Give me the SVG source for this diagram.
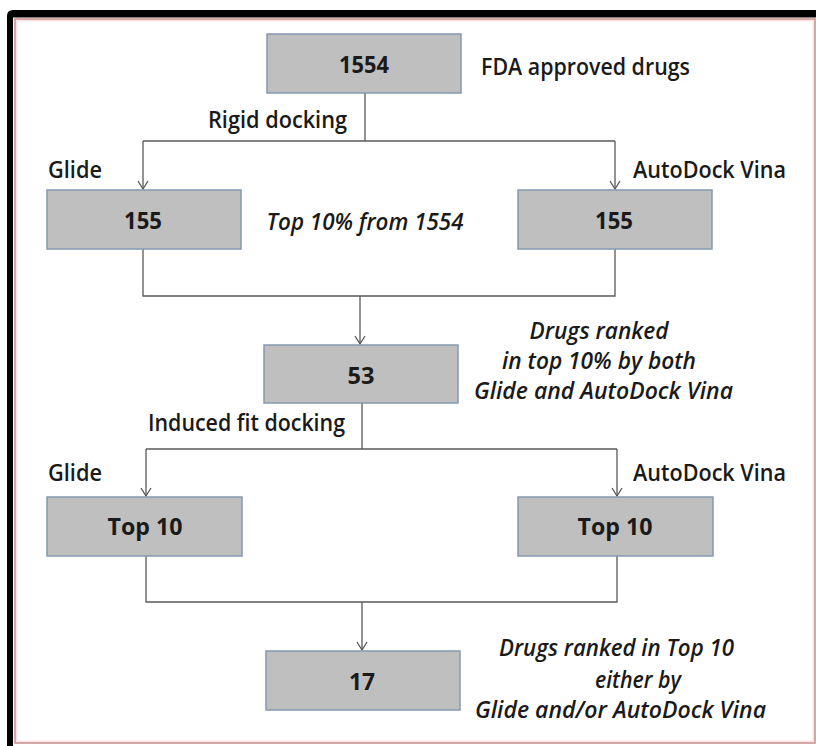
<svg xmlns="http://www.w3.org/2000/svg" width="816" height="746" viewBox="0 0 816 746">
<defs>
<style>
.box{fill:#bfbfbf;stroke:#8599b0;stroke-width:1.5}
.ln{fill:none;stroke:#595959;stroke-width:1.3}
.num{font-family:"Open Sans","Liberation Sans",sans-serif;font-weight:700;font-size:23px;fill:#1a1a1a;text-anchor:middle}
.lab{font-family:"Open Sans","Liberation Sans",sans-serif;font-weight:600;font-size:23.5px;fill:#1a1a1a}
.it{font-family:"Open Sans","Liberation Sans",sans-serif;font-weight:600;font-style:italic;font-size:23.5px;fill:#1a1a1a;text-anchor:middle}
</style>
<marker id="arr" markerUnits="userSpaceOnUse" markerWidth="12" markerHeight="12" viewBox="-10 -6 12 12" refX="0" refY="0" orient="auto">
<path d="M-8,-5 L0,0 L-8,5" fill="none" stroke="#595959" stroke-width="1.3"/>
</marker>
</defs>
<rect width="816" height="746" fill="#ffffff"/>
<g id="frame">
<path d="M7,746 L7,16 Q7,10 13,10 L816,10 L816,17.5 L13,17.5 L13,746 Z" fill="#000"/>
<rect x="15" y="19" width="800" height="724" fill="none" stroke="#c88a8a" stroke-width="1.5"/>
<rect x="16.8" y="20.8" width="796.4" height="720.4" fill="none" stroke="#f3d6d6" stroke-width="1"/>
</g>
<g id="connectors">
<path class="ln" d="M365,93 V141 M143,141 H615"/>
<path class="ln" d="M143,141 V189" marker-end="url(#arr)"/>
<path class="ln" d="M615,141 V189" marker-end="url(#arr)"/>
<path class="ln" d="M143,249 V296 H615 V249"/>
<path class="ln" d="M360,296 V344" marker-end="url(#arr)"/>
<path class="ln" d="M362,403 V449 M146,449 H617"/>
<path class="ln" d="M146,449 V496" marker-end="url(#arr)"/>
<path class="ln" d="M617,449 V496" marker-end="url(#arr)"/>
<path class="ln" d="M146,556 V602 H617 V556"/>
<path class="ln" d="M362,602 V650" marker-end="url(#arr)"/>
</g>
<g id="n1554">
<rect class="box" x="267" y="34" width="194" height="59"/>
<text class="num" x="364" y="72.5" textLength="50" lengthAdjust="spacingAndGlyphs">1554</text>
</g>
<g id="lbl-fda"><text class="lab" x="481" y="74.5" textLength="209" lengthAdjust="spacingAndGlyphs">FDA approved drugs</text></g>
<g id="lbl-rigid"><text class="lab" x="208" y="128" textLength="139" lengthAdjust="spacingAndGlyphs">Rigid docking</text></g>
<g id="lbl-glide1"><text class="lab" x="48" y="177.5" textLength="54" lengthAdjust="spacingAndGlyphs">Glide</text></g>
<g id="lbl-vina1"><text class="lab" x="633" y="177.5" textLength="153" lengthAdjust="spacingAndGlyphs">AutoDock Vina</text></g>
<g id="n155a">
<rect class="box" x="47" y="190" width="194" height="59"/>
<text class="num" x="143" y="228.5" textLength="38" lengthAdjust="spacingAndGlyphs">155</text>
</g>
<g id="n155b">
<rect class="box" x="518" y="190" width="194" height="59"/>
<text class="num" x="614" y="228.5" textLength="38" lengthAdjust="spacingAndGlyphs">155</text>
</g>
<g id="lbl-top10pct"><text class="it" x="365" y="229.5" textLength="197" lengthAdjust="spacingAndGlyphs">Top 10% from 1554</text></g>
<g id="n53">
<rect class="box" x="264" y="345" width="194" height="58"/>
<text class="num" x="361" y="383.5" textLength="27" lengthAdjust="spacingAndGlyphs">53</text>
</g>
<g id="lbl-both">
<text class="it" x="599" y="338.5" textLength="139" lengthAdjust="spacingAndGlyphs">Drugs ranked</text>
<text class="it" x="599" y="368.5" textLength="194" lengthAdjust="spacingAndGlyphs">in top 10% by both</text>
<text class="it" x="603.5" y="398.5" textLength="259" lengthAdjust="spacingAndGlyphs">Glide and AutoDock Vina</text>
</g>
<g id="lbl-induced"><text class="lab" x="148" y="430.5" textLength="197" lengthAdjust="spacingAndGlyphs">Induced fit docking</text></g>
<g id="lbl-glide2"><text class="lab" x="48" y="480.5" textLength="54" lengthAdjust="spacingAndGlyphs">Glide</text></g>
<g id="lbl-vina2"><text class="lab" x="633" y="480.5" textLength="153" lengthAdjust="spacingAndGlyphs">AutoDock Vina</text></g>
<g id="ntop10a">
<rect class="box" x="47" y="497" width="195" height="59"/>
<text class="num" x="145" y="535" textLength="75" lengthAdjust="spacingAndGlyphs">Top 10</text>
</g>
<g id="ntop10b">
<rect class="box" x="518" y="497" width="195" height="59"/>
<text class="num" x="615" y="535" textLength="75" lengthAdjust="spacingAndGlyphs">Top 10</text>
</g>
<g id="n17">
<rect class="box" x="266" y="651" width="194" height="59"/>
<text class="num" x="362" y="689.5" textLength="26" lengthAdjust="spacingAndGlyphs">17</text>
</g>
<g id="lbl-either">
<text class="it" x="616.5" y="655.5" textLength="235" lengthAdjust="spacingAndGlyphs">Drugs ranked in Top 10</text>
<text class="it" x="638" y="687.5" textLength="86" lengthAdjust="spacingAndGlyphs">either by</text>
<text class="it" x="620.5" y="717.5" textLength="291" lengthAdjust="spacingAndGlyphs">Glide and/or AutoDock Vina</text>
</g>
</svg>
